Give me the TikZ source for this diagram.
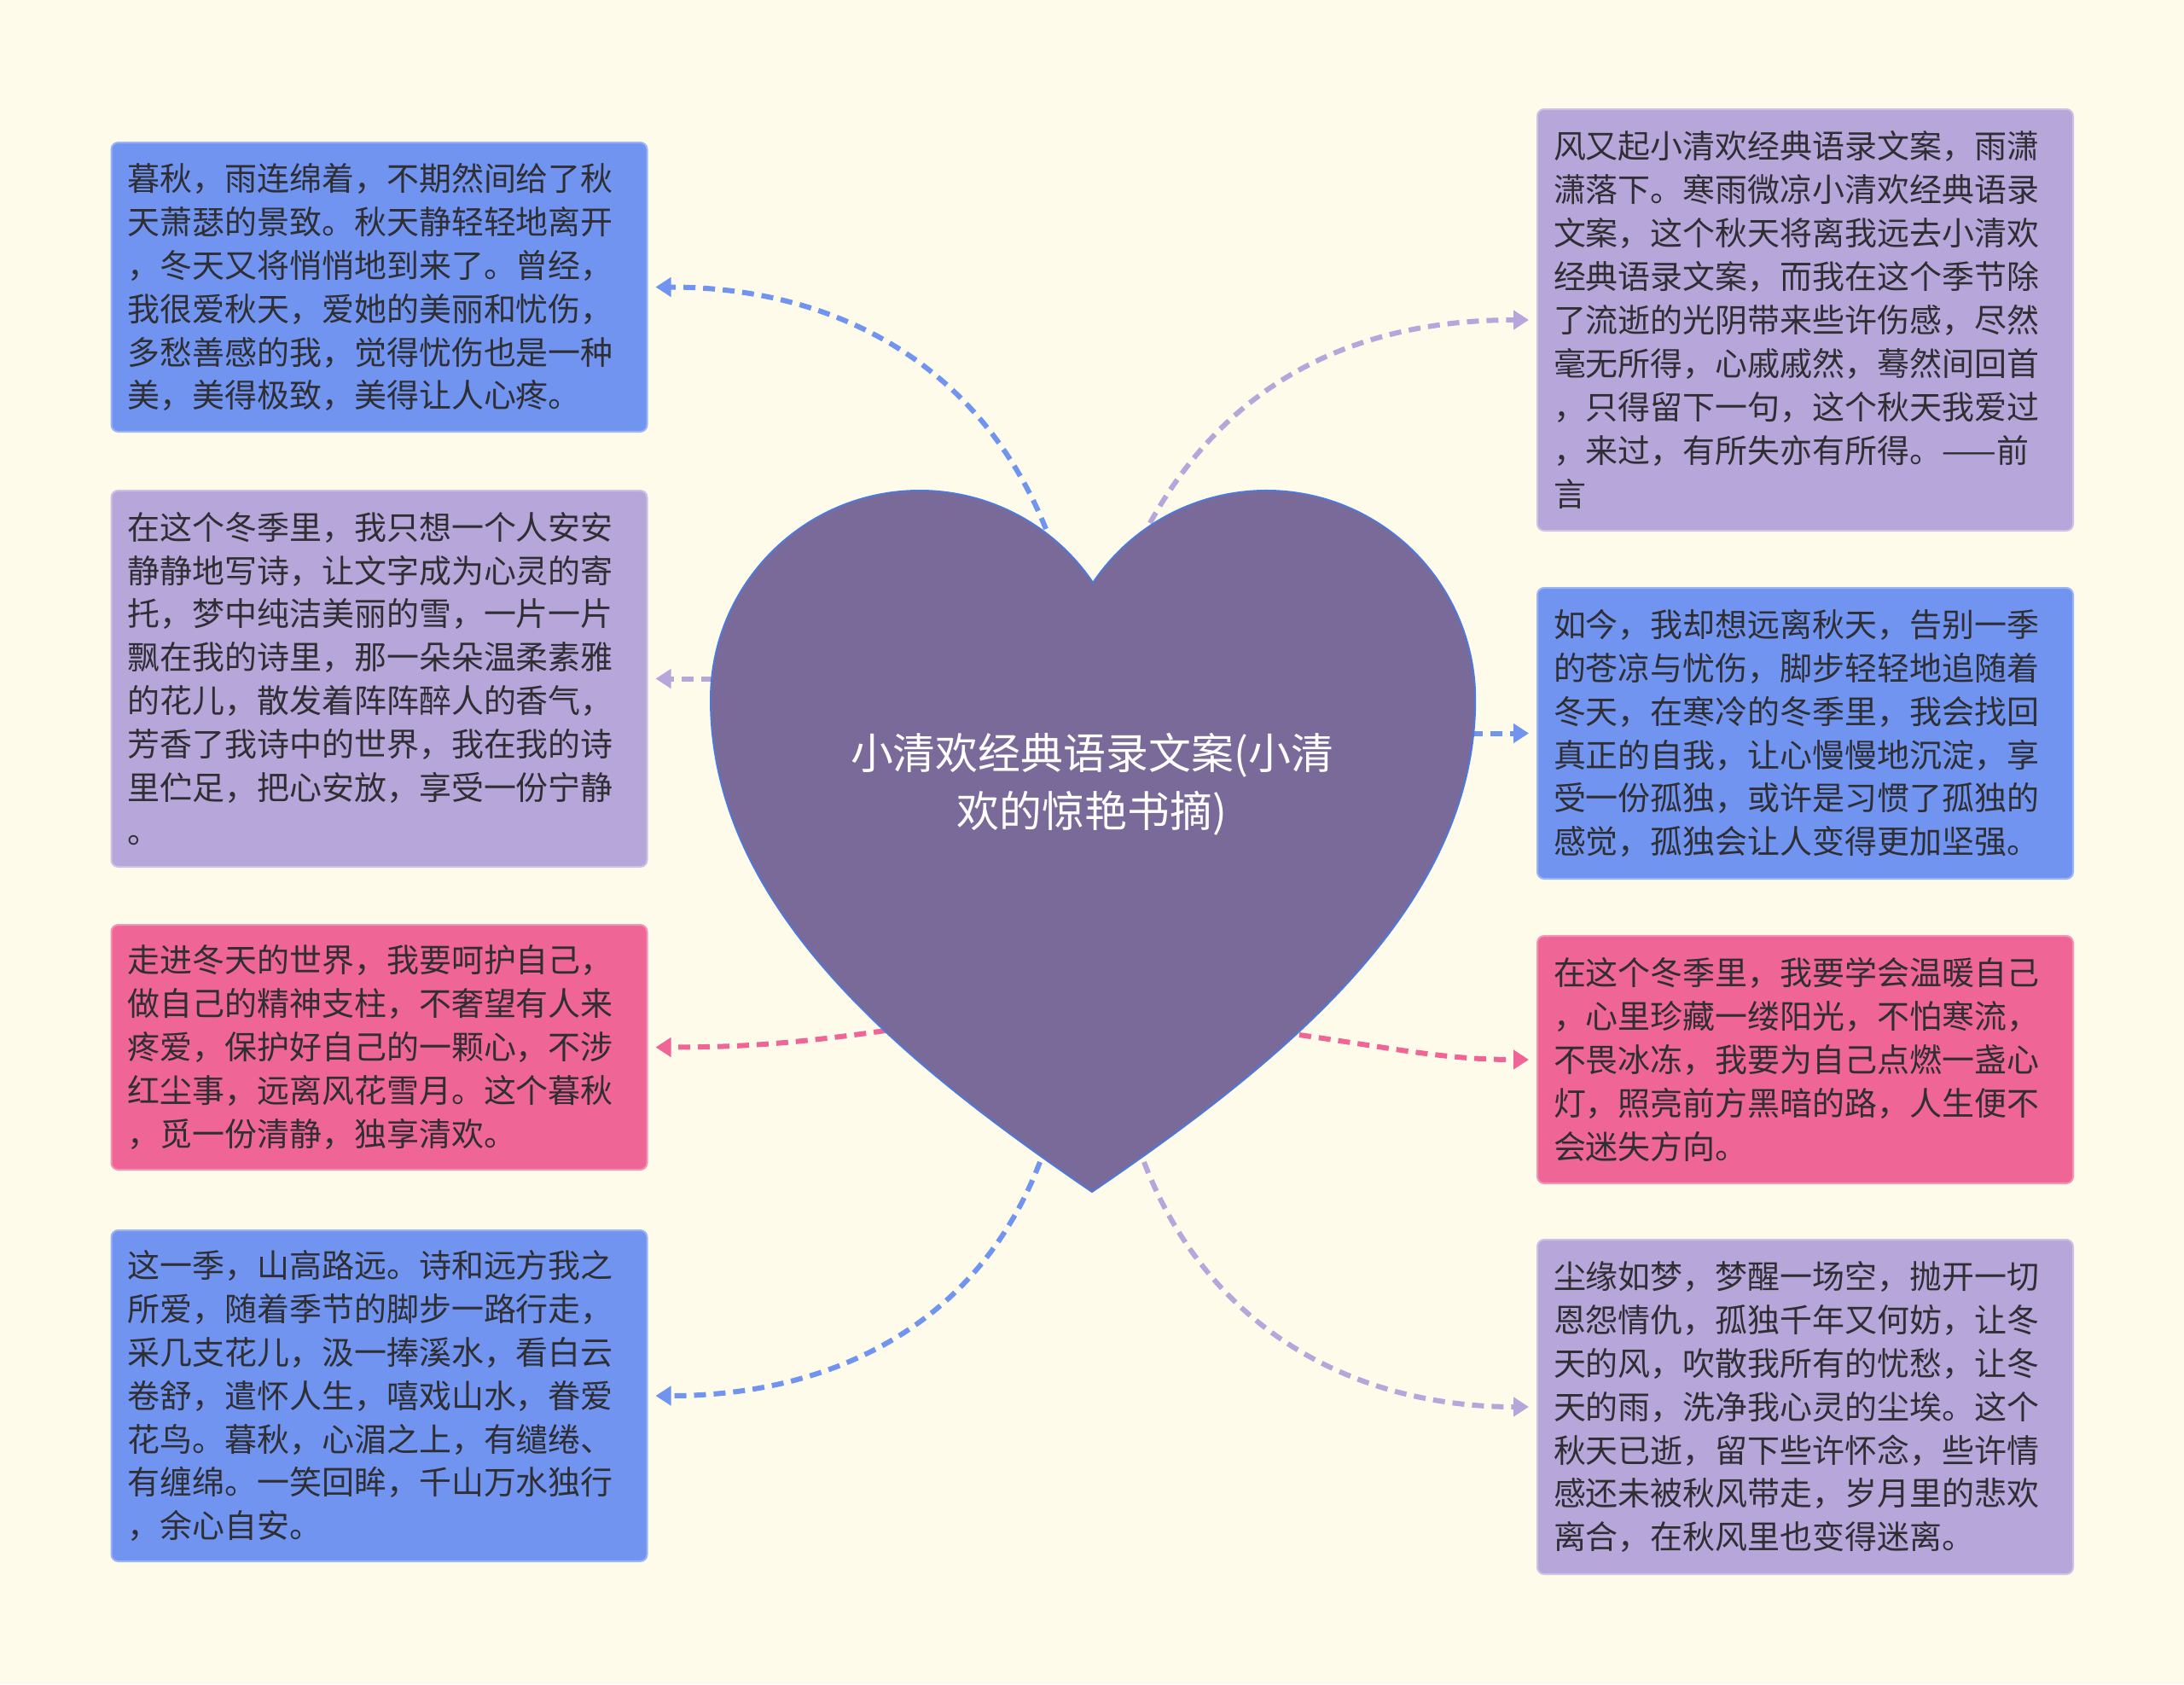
\documentclass[tikz,border=0pt]{standalone}
\usepackage{fontspec}
\newfontfamily\cjk{Noto Sans CJK SC}
\usetikzlibrary{arrows.meta}
\definecolor{paper}{HTML}{FEFBEB}
\definecolor{bluebox}{HTML}{7094F0}
\definecolor{lilacbox}{HTML}{B7A6DA}
\definecolor{pinkbox}{HTML}{EF6596}
\definecolor{heartfill}{HTML}{7A6A9A}
\definecolor{heartline}{HTML}{4F79D8}
\definecolor{ink}{HTML}{2E2E33}
\tikzset{
leaf/.style={fill=#1, draw=#1!70!white, line width=0.02cm, rounded corners=0.08cm,
  text width=5.9cm, inner xsep=0.19cm, inner ysep=0cm, align=left, text=ink,
  font=\cjk\fontsize{10.8}{14.5}\selectfont},
link/.style={draw=#1, line width=0.06cm, dash pattern=on 0.14cm off 0.09cm,
  -{Triangle[length=0.18cm,width=0.22cm]}, shorten >=0.09cm},
}

\begin{document}
\begin{tikzpicture}
\useasboundingbox (0,0) rectangle (25.6,-19.74);
\fill[paper] (0,0) rectangle (25.6,-19.74);

% left column
\node[leaf=bluebox, minimum height=3.39cm] (L1) at (4.445,-3.365) {暮秋，雨连绵着，不期然间给了秋\\天萧瑟的景致。秋天静轻轻地离开\\，冬天又将悄悄地到来了。曾经，\\我很爱秋天，爱她的美丽和忧伤，\\多愁善感的我，觉得忧伤也是一种\\美，美得极致，美得让人心疼。};
\node[leaf=lilacbox, minimum height=4.41cm] (L2) at (4.445,-7.955) {在这个冬季里，我只想一个人安安\\静静地写诗，让文字成为心灵的寄\\托，梦中纯洁美丽的雪，一片一片\\飘在我的诗里，那一朵朵温柔素雅\\的花儿，散发着阵阵醉人的香气，\\芳香了我诗中的世界，我在我的诗\\里伫足，把心安放，享受一份宁静\\。};
\node[leaf=pinkbox, minimum height=2.87cm] (L3) at (4.445,-12.275) {走进冬天的世界，我要呵护自己，\\做自己的精神支柱，不奢望有人来\\疼爱，保护好自己的一颗心，不涉\\红尘事，远离风花雪月。这个暮秋\\，觅一份清静，独享清欢。};
\node[leaf=bluebox, minimum height=3.88cm] (L4) at (4.445,-16.36) {这一季，山高路远。诗和远方我之\\所爱，随着季节的脚步一路行走，\\采几支花儿，汲一捧溪水，看白云\\卷舒，遣怀人生，嘻戏山水，眷爱\\花鸟。暮秋，心湄之上，有缱绻、\\有缠绵。一笑回眸，千山万水独行\\，余心自安。};

% right column
\node[leaf=lilacbox, minimum height=4.94cm] (R1) at (21.16,-3.75) {风又起小清欢经典语录文案，雨潇\\潇落下。寒雨微凉小清欢经典语录\\文案，这个秋天将离我远去小清欢\\经典语录文案，而我在这个季节除\\了流逝的光阴带来些许伤感，尽然\\毫无所得，心戚戚然，蓦然间回首\\，只得留下一句，这个秋天我爱过\\，来过，有所失亦有所得。——前\\言};
\node[leaf=bluebox, minimum height=3.41cm] (R2) at (21.16,-8.595) {如今，我却想远离秋天，告别一季\\的苍凉与忧伤，脚步轻轻地追随着\\冬天，在寒冷的冬季里，我会找回\\真正的自我，让心慢慢地沉淀，享\\受一份孤独，或许是习惯了孤独的\\感觉，孤独会让人变得更加坚强。};
\node[leaf=pinkbox, minimum height=2.90cm] (R3) at (21.16,-12.42) {在这个冬季里，我要学会温暖自己\\，心里珍藏一缕阳光，不怕寒流，\\不畏冰冻，我要为自己点燃一盏心\\灯，照亮前方黑暗的路，人生便不\\会迷失方向。};
\node[leaf=lilacbox, minimum height=3.92cm] (R4) at (21.16,-16.49) {尘缘如梦，梦醒一场空，抛开一切\\恩怨情仇，孤独千年又何妨，让冬\\天的风，吹散我所有的忧愁，让冬\\天的雨，洗净我心灵的尘埃。这个\\秋天已逝，留下些许怀念，些许情\\感还未被秋风带走，岁月里的悲欢\\离合，在秋风里也变得迷离。};

% where the links leave the heart
\coordinate (hL1) at (12.26,-6.20);
\coordinate (hR1) at (13.48,-6.13);
\coordinate (hL2) at (8.36,-7.955);
\coordinate (hR2) at (17.24,-8.595);
\coordinate (hL3) at (10.38,-12.08);
\coordinate (hR3) at (15.23,-12.13);
\coordinate (hL4) at (12.19,-13.62);
\coordinate (hR4) at (13.41,-13.62);

\draw[link=bluebox] (hL1) to[out=112,in=0] (L1.east);
\draw[link=lilacbox] (hL2) -- (L2.east);
\draw[link=pinkbox] (hL3) to[out=188,in=0] (L3.east);
\draw[link=bluebox] (hL4) to[out=249,in=0] (L4.east);
\draw[link=lilacbox] (hR1) to[out=61,in=180] (R1.west);
\draw[link=bluebox] (hR2) -- (R2.west);
\draw[link=pinkbox] (hR3) to[out=-8,in=180] (R3.west);
\draw[link=lilacbox] (hR4) to[out=291,in=180] (R4.west);

% heart
\draw[fill=heartfill, draw=heartline, line width=0.02cm] (12.80,-13.97)
  .. controls (10.50,-12.40) and (8.33,-10.60) .. (8.33,-8.20)
  arc[start angle=180, end angle=34, radius=2.45]
  arc[start angle=146, end angle=0, radius=2.45]
  .. controls (17.29,-10.60) and (15.10,-12.40) .. (12.80,-13.97) -- cycle;
\node[text=white, align=center, font=\cjk\fontsize{14.2}{19.3}\selectfont] (root) at (12.80,-9.19) {小清欢经典语录文案(小清\\欢的惊艳书摘)};
\end{tikzpicture}
\end{document}
